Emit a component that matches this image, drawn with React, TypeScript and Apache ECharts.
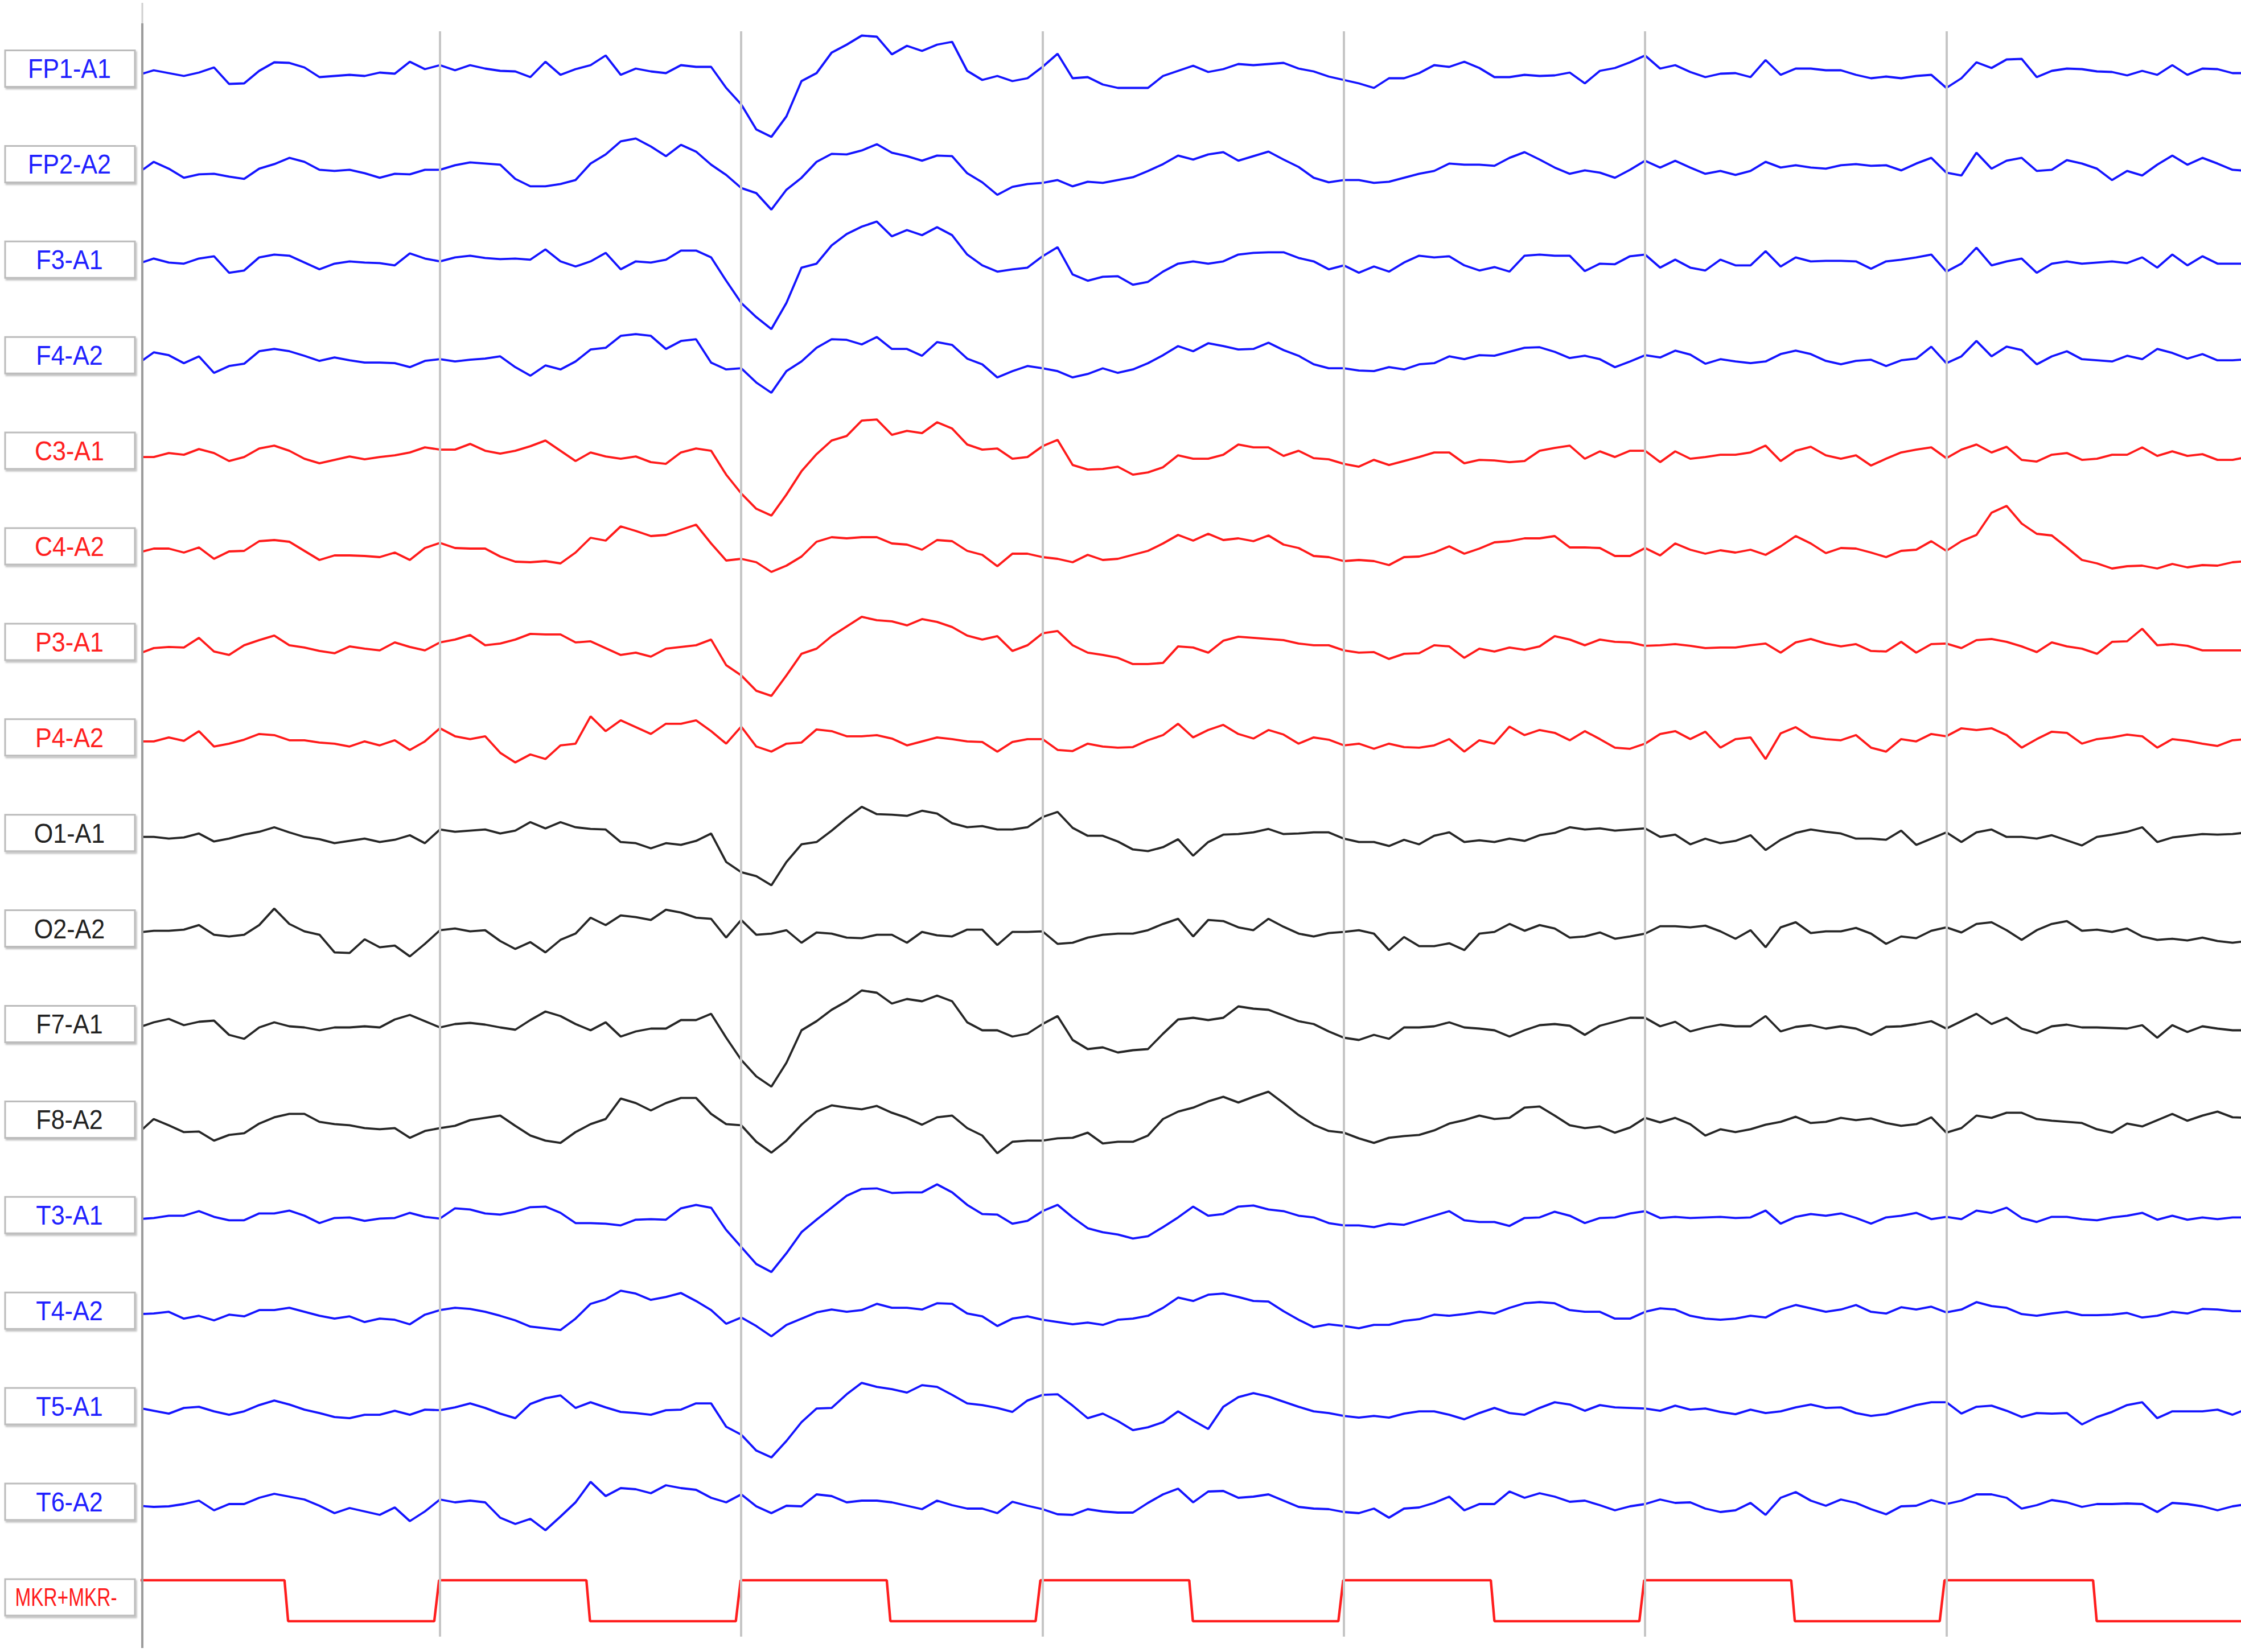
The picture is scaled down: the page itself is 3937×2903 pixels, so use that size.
import React, { useEffect, useRef } from "react";
import * as echarts from "echarts";

// ---- time base: one sample every 0.05 s, seconds 0 .. 7 ----
const TIME_STEP = 0.05;
const SAMPLE_COUNT = 141;
const VIEW_START = 0.012;
const VIEW_END = 6.978;
const SECOND_MARKS = [1, 2, 3, 4, 5, 6];

const CHANNEL_NAMES = [
  "FP1-A1", "FP2-A2", "F3-A1", "F4-A2", "C3-A1", "C4-A2", "P3-A1", "P4-A2",
  "O1-A1", "O2-A2", "F7-A1", "F8-A2", "T3-A1", "T4-A2", "T5-A1", "T6-A2",
];
const CHANNEL_COLORS = [
  "#1414ff", "#1414ff", "#1414ff", "#1414ff",
  "#ff1a1a", "#ff1a1a", "#ff1a1a", "#ff1a1a",
  "#262626", "#262626", "#262626", "#262626",
  "#1414ff", "#1414ff", "#1414ff", "#1414ff",
];
const LABEL_COLORS = [
  "#2020ff", "#2020ff", "#2020ff", "#2020ff",
  "#ff2020", "#ff2020", "#ff2020", "#ff2020",
  "#222222", "#222222", "#222222", "#222222",
  "#2020ff", "#2020ff", "#2020ff", "#2020ff",
];

// ---- signal amplitudes (positive = up), one value per sample ----
const FP1_A1 = [-11,-3,-8,-13,-7,2,-27,-26,-4,11, 10,2,-15,-13,-11,-13,-7,-9,12,-1, 6,-3,6,0,-4,-5,-15,12,-11,-1, 6,23,-11,0,-5,-8,6,3,3,-34, -63,-107,-120,-84,-22,-8,28,42,58,56, 25,40,31,42,47,-4,-20,-13,-22,-17, 3,26,-17,-15,-28,-34,-34,-34,-13,-4, 5,-6,-1,8,6,8,10,0,-5,-14, -20,-26,-34,-17,-17,-8,6,3,12,1, -15,-15,-11,-13,-12,-7,-26,-4,1,11, 23,0,6,-6,-15,-9,-8,-15,15,-11, 0,0,-3,-3,-11,-17,-14,-17,-13,-11, -34,-17,11,1,16,17,-15,-4,0,-1, -5,-6,-12,-4,-11,6,-11,0,-1,-8,-8];
const FP2_A2 = [-15,4,-8,-24,-18,-17,-22,-26,-8,0, 11,4,-10,-12,-10,-16,-24,-17,-18,-10, -10,-2,3,1,-1,-26,-39,-39,-35,-28, 1,17,40,45,31,14,34,22,-1,-19, -42,-51,-80,-45,-24,4,18,17,24,35, 20,14,6,15,14,-16,-32,-54,-40,-35, -33,-28,-39,-31,-33,-28,-23,-12,0,15, 8,17,21,6,14,22,8,-5,-24,-32, -28,-28,-33,-31,-24,-17,-12,1,-1,-1, -3,11,21,8,-6,-17,-11,-15,-24,-10, 6,-6,6,-6,-17,-12,-19,-12,4,-6, -2,-6,-8,-2,0,-3,-2,-11,1,11, -15,-20,20,-8,6,11,-12,-10,7,1, -8,-28,-12,-20,-1,15,-1,11,1,-10,-12];
const F3_A1 = [-7,2,-5,-7,2,6,-23,-19,4,9, 7,-5,-17,-7,-3,-5,-6,-10,11,2, -3,4,7,3,1,2,0,18,-3,-12, -3,12,-17,-3,-5,0,16,16,4,-37, -76,-101,-122,-76,-14,-7,25,45,58,67, 41,52,43,57,43,9,-10,-21,-17,-14, 6,22,-26,-37,-30,-29,-44,-39,-21,-7, -3,-7,-3,9,12,13,13,3,-3,-17, -10,-23,-12,-21,-5,7,4,6,-10,-19, -13,-21,7,9,7,7,-20,-7,-8,6, 9,-14,0,-14,-19,0,-10,-10,15,-12, 4,-3,-2,-2,-3,-16,-3,0,4,9, -21,-7,21,-10,-3,2,-23,-7,-3,-7, -5,-3,-6,4,-14,9,-10,6,-7,-7,-7];
const F4_A2 = [-14,5,0,-14,-2,-31,-19,-15,7,11, 7,-1,-10,-4,-9,-13,-13,-14,-21,-10, -7,-11,-8,-6,-2,-21,-36,-18,-25,-11, 10,13,34,37,34,11,25,28,-13,-25, -23,-48,-66,-28,-11,13,28,27,19,32, 11,11,-1,23,18,-6,-16,-39,-28,-19, -23,-28,-39,-33,-23,-31,-25,-14,0,16, 7,21,16,10,11,22,9,-1,-16,-23, -23,-27,-28,-21,-25,-16,-14,-2,-7,0, -1,6,13,14,6,-5,-1,-7,-21,-11, 0,-4,8,1,-15,-7,-11,-14,-11,2, 8,2,-10,-16,-10,-8,-19,-9,-6,15, -14,-2,25,-2,15,9,-16,-2,7,-7, -9,-11,-1,-7,11,4,-6,2,-9,-9,-7];
const C3_A1 = [-11,-11,-4,-7,3,-4,-18,-11,4,9, 0,-14,-22,-16,-10,-15,-11,-8,-3,6, 2,2,12,0,-5,0,8,18,0,-18, -3,-10,-14,-10,-20,-23,-3,4,0,-42, -75,-102,-114,-77,-36,-6,18,26,53,55, 28,35,31,50,39,11,2,4,-14,-11, 8,19,-25,-33,-32,-28,-42,-38,-29,-8, -14,-14,-7,11,6,6,-9,0,-13,-15, -23,-28,-16,-25,-18,-11,-3,-3,-22,-16, -17,-20,-18,0,5,9,-14,-1,-11,0, 0,-20,-1,-14,-11,-7,-7,-3,9,-18, 0,7,-8,-14,-8,-26,-14,-3,2,6, -13,2,11,-3,7,-16,-19,-7,-4,-16, -14,-7,-7,6,-9,-1,-9,-6,-16,-16,-11];
const C4_A2 = [-11,-4,-4,-11,-2,-22,-9,-8,9,11, 8,-8,-24,-16,-16,-17,-19,-11,-24,-3, 6,-3,-4,-4,-18,-27,-28,-26,-30,-11, 15,10,35,27,18,20,29,38,5,-25, -22,-28,-45,-34,-18,8,16,14,16,16, 5,3,-6,11,9,-8,-15,-35,-13,-13, -19,-22,-28,-15,-24,-22,-15,-8,5,20, 10,22,11,14,9,19,3,-3,-17,-19, -26,-24,-26,-33,-19,-18,-11,0,-13,-4, 7,9,14,14,18,-2,-2,-3,-17,-17, -3,-16,5,-6,-13,-7,-11,-6,-15,0, 18,5,-12,-3,-4,-11,-19,-8,-6,9, -8,9,20,59,71,40,22,19,-2,-24, -30,-39,-35,-34,-39,-31,-37,-33,-34,-28,-26];
const P3_A1 = [-21,-11,-9,-10,7,-17,-23,-6,3,11, -6,-10,-16,-20,-8,-12,-15,-1,-9,-15, -1,4,12,-6,-3,4,14,13,13,-1, 1,-11,-23,-19,-26,-12,-9,-6,4,-41, -59,-86,-95,-59,-21,-12,10,27,44,38, 36,29,40,35,26,11,4,10,-16,-6, 15,19,-6,-19,-23,-28,-39,-39,-37,-8, -10,-19,2,9,7,5,3,-3,-6,-6, -15,-19,-18,-30,-21,-20,-6,-8,-28,-12, -17,-10,-14,-8,10,4,-6,4,0,-1, -7,-6,-4,-7,-11,-10,-10,-6,-3,-19, -1,5,-3,-8,-4,-16,-17,0,-19,-4, -3,-11,3,5,0,-8,-18,-1,-8,-12, -21,0,1,23,-6,-4,-7,-15,-15,-15,-15];
const P4_A2 = [-7,-7,0,-6,11,-16,-11,-4,6,4, -5,-5,-9,-11,-16,-7,-14,-5,-22,-7, 16,2,-3,2,-27,-44,-30,-38,-14,-11, 37,11,30,18,6,24,24,30,11,-11, 19,-16,-25,-11,-9,14,11,2,2,4, -2,-14,-7,0,-3,-7,-8,-25,-8,-3, -3,-22,-24,-11,-16,-18,-17,-5,4,24, 0,13,22,6,-2,13,5,-11,0,-4, -14,-11,-20,-11,-17,-18,-14,-3,-25,-5, -11,19,4,13,8,-5,11,-3,-18,-20, -11,6,11,-3,10,-18,-3,0,-38,7, 18,1,-3,-5,4,-18,-25,-3,-7,6, 2,16,13,16,4,-18,-3,10,8,-11, -3,0,5,2,-18,-3,-6,-11,-15,-5,-3];
const O1_A1 = [-7,-7,-10,-8,-1,-15,-10,-3,2,10, 1,-7,-11,-18,-14,-10,-16,-12,-4,-18, 6,2,4,6,-1,4,19,8,19,10, 7,6,-16,-18,-27,-18,-21,-14,-1,-51, -69,-76,-92,-51,-20,-16,4,26,46,33, 32,30,39,34,17,10,12,6,6,10, 28,37,9,-5,-5,-15,-29,-32,-25,-11, -40,-16,-3,-2,1,7,-2,-1,1,1, -10,-16,-16,-23,-12,-20,-5,1,-16,-13, -16,-10,-14,-4,0,10,6,8,4,6, 8,-7,-3,-20,-10,-18,-14,-4,-30,-12, 0,6,2,-1,-10,-10,-12,4,-21,-10, 1,-16,1,6,-7,-7,-10,-4,-13,-22, -7,-3,2,10,-16,-8,-5,-2,-3,-2,1];
const O2_A2 = [-7,-4,-4,-2,6,-11,-14,-11,6,35, 8,-5,-11,-42,-43,-19,-33,-30,-49,-27, -3,0,-5,-3,-22,-36,-24,-42,-20,-9, 19,6,23,20,15,33,28,19,17,-16, 15,-11,-9,-3,-25,-7,-9,-16,-17,-11, -11,-25,-6,-12,-14,-2,-2,-29,-6,-6, -5,-27,-25,-16,-11,-9,-9,-3,8,17, -14,15,13,2,-3,17,3,-9,-14,-8, -6,-3,-9,-38,-15,-31,-31,-26,-38,-9, -6,8,-4,6,0,-16,-14,-7,-18,-14, -9,4,4,2,5,-5,-18,-3,-33,2, 11,-8,-5,-5,1,-9,-27,-14,-17,-4, 2,-7,8,11,-3,-20,-3,8,13,-4, -2,-6,0,-14,-20,-18,-21,-16,-22,-25,-22];
const F7_A1 = [-6,3,9,-2,4,6,-19,-26,-6,3, -4,-6,-11,-6,-6,-4,-6,8,16,5, -6,0,2,-1,-6,-10,7,22,14,0, -11,3,-22,-13,-8,-8,7,7,18,-24, -63,-92,-110,-68,-11,5,25,40,59,55, 36,44,40,50,40,3,-11,-11,-22,-17, 0,14,-28,-44,-41,-50,-46,-44,-17,8, 11,7,11,31,27,25,15,5,0,-13, -24,-28,-19,-26,-6,-6,-4,3,-6,-8, -11,-22,-11,-2,0,-3,-19,-3,4,11, 11,-4,4,-13,-6,-1,-4,-4,14,-13, -5,-2,-8,-4,-8,-19,-5,-4,0,5, -8,5,18,0,11,-8,-16,-4,-1,-6, -6,-7,-8,-2,-24,-2,-14,-4,-8,-11,-11];
const F8_A2 = [-23,1,-10,-22,-21,-37,-27,-24,-7,4, 10,10,-4,-8,-10,-15,-17,-15,-32,-20, -15,-11,-1,3,7,-11,-28,-37,-41,-22, -8,1,37,29,16,29,38,38,10,-8, -10,-39,-58,-37,-9,14,25,21,18,24, 12,3,-9,4,7,-15,-28,-59,-39,-37, -37,-33,-32,-23,-42,-39,-39,-28,1,14, 21,32,40,30,40,49,29,8,-9,-20, -23,-33,-41,-32,-29,-27,-19,-7,-1,7, 1,3,21,23,7,-10,-15,-12,-23,-14, 3,-5,3,-8,-28,-17,-22,-17,-9,-4, 5,-6,-4,3,-1,2,-6,-11,-8,4, -23,-15,7,3,12,12,1,-2,-4,-6, -17,-23,-7,-12,-1,10,-2,7,14,4,3];
const T3_A1 = [-7,-5,-1,-1,7,-3,-9,-9,3,3, 8,-1,-14,-5,-4,-10,-6,-5,4,-3, -6,12,10,3,1,6,14,15,4,-14, -14,-15,-18,-8,-7,-8,12,18,13,-26, -56,-86,-100,-67,-30,-8,13,34,46,47, 39,40,40,54,40,18,2,1,-15,-10, 7,18,-4,-23,-30,-34,-41,-37,-21,-4, 15,-1,2,15,17,10,7,-1,-4,-14, -18,-18,-21,-15,-17,-9,-1,7,-9,-12, -12,-19,-5,-4,6,-1,-14,-5,-4,3, 7,-5,-3,-5,-4,-3,-5,-4,8,-15, -3,2,-1,3,-5,-15,-4,-1,4,-7, -3,-7,8,4,13,-5,-12,-3,-3,-7, -9,-4,-1,4,-8,-1,-8,-4,-7,-4,-4];
const T4_A2 = [-6,-5,-2,-14,-9,-17,-7,-10,1,1, 5,-2,-9,-14,-10,-20,-14,-16,-24,-7, 1,5,3,-2,-9,-17,-28,-31,-34,-14, 12,20,35,30,19,24,31,17,1,-23, -12,-27,-45,-25,-14,-3,2,-2,1,12, 5,5,2,13,12,-5,-10,-27,-14,-10, -16,-20,-24,-21,-25,-16,-14,-9,5,23, 17,28,30,24,17,16,-1,-16,-29,-24, -27,-31,-25,-25,-18,-15,-7,-9,-6,-2, -5,5,13,15,13,1,-2,-2,-14,-14, -2,4,2,-9,-14,-16,-14,-9,-12,2, 10,4,-2,2,10,-2,-5,6,2,7, -3,2,15,8,5,-6,-9,-5,-2,-8, -8,-7,-4,-12,-9,-2,-5,3,2,-1,-1];
const T5_A1 = [-3,-8,-13,-3,-1,-9,-15,-9,2,10, 3,-6,-12,-19,-21,-15,-15,-8,-15,-6, -7,-2,5,-3,-13,-21,4,14,19,-3, 7,-2,-10,-12,-15,-7,-6,5,5,-36, -50,-78,-90,-61,-28,-4,-3,21,41,34, 30,24,37,34,20,5,2,-3,-10,10, 20,21,1,-21,-13,-26,-42,-37,-28,-9, -25,-40,-1,16,23,17,8,-1,-9,-12, -17,-20,-17,-20,-13,-9,-9,-15,-23,-12, -3,-12,-15,-3,7,3,-8,2,-2,-3, -4,-8,1,-6,-4,-10,-14,-6,-12,-9, -2,3,-3,-2,-12,-17,-14,-6,2,7, 7,-13,-1,1,-8,-19,-12,-13,-12,-32, -19,-10,2,7,-21,-9,-9,-9,-6,-15,-4];
const T6_A2 = [-7,-9,-8,-4,2,-15,-4,-4,7,14, 9,4,-7,-20,-11,-17,-23,-10,-34,-17, 4,-1,2,-1,-28,-39,-30,-50,-26,-1, 35,10,24,22,15,29,24,21,7,-1, 13,-8,-20,-7,-8,13,10,-1,2,2, -1,-7,-13,2,-6,-12,-12,-20,0,-7, -13,-22,-23,-13,-17,-19,-19,-2,13,23, -1,18,19,7,9,13,2,-9,-12,-13, -18,-20,-12,-28,-12,-10,-2,9,-15,-4, -4,18,7,15,9,0,2,-6,-15,-8, -4,4,-2,-1,-12,-18,-15,-2,-23,7, 17,2,-7,4,-2,-13,-22,-8,-7,3, -4,2,13,13,7,-12,-6,3,-1,-9, -4,-4,-3,-4,-18,-2,-4,-8,-15,-8,-4];

const CHANNEL_VALUES = [
  FP1_A1, FP2_A2, F3_A1, F4_A2, C3_A1, C4_A2, P3_A1, P4_A2,
  O1_A1, O2_A2, F7_A1, F8_A2, T3_A1, T4_A2, T5_A1, T6_A2,
];

// ---- marker channel: square wave edges (seconds) and levels ----
const MKR_NAME = "MKR+MKR-";
const MKR_FALL = [0.484, 1.486, 2.483, 3.487, 4.488, 5.485, 6.487];
const MKR_RISE = [0.997, 1.998, 2.993, 3.998, 4.997, 5.994];
const MKR_HIGH = 30;
const MKR_LOW = -42;

// ---- layout (pixels) ----
const W = 3937;
const H = 2903;
const GRID_LEFT = 250;
const GRID_TOP = 55;
const GRID_BOTTOM_Y = 2876;
const FIRST_BASE = 120.5;
const SPACING = 167.9;

export default function App() {
  const ref = useRef<HTMLDivElement>(null);

  useEffect(() => {
    if (!ref.current) return;
    const chart = echarts.init(ref.current, undefined, { renderer: "svg", width: W, height: H });

    const times = Array.from({ length: SAMPLE_COUNT }, (_, k) => +(k * TIME_STEP).toFixed(3));
    const yMax = FIRST_BASE - GRID_TOP;
    const yMin = -(GRID_BOTTOM_Y - FIRST_BASE);

    const series: any[] = [];
    // grey one-second lines
    series.push({
      type: "line",
      data: [],
      silent: true,
      z: 1,
      markLine: {
        silent: true,
        symbol: ["none", "none"],
        label: { show: false },
        lineStyle: { color: "#c6c6c6", width: 4, type: "solid" },
        emphasis: { disabled: true },
        data: SECOND_MARKS.map((s) => ({ xAxis: s })),
      },
    });

    CHANNEL_VALUES.forEach((vals, i) => {
      series.push({
        type: "line",
        name: CHANNEL_NAMES[i],
        data: times.map((t, k) => [t, -i * SPACING + vals[k]]),
        showSymbol: false,
        symbol: "none",
        silent: true,
        z: 3,
        lineStyle: { width: 3.8, color: CHANNEL_COLORS[i] },
        emphasis: { disabled: true },
      });
    });

    // marker square wave
    const edges: { t: number; rise: boolean }[] = [
      ...MKR_FALL.map((t) => ({ t, rise: false })),
      ...MKR_RISE.map((t) => ({ t, rise: true })),
    ].sort((a, b) => a.t - b.t);
    const mkrBase = -16 * SPACING;
    const mkr: number[][] = [[0, mkrBase + MKR_HIGH]];
    edges.forEach((e) => {
      if (e.rise) {
        mkr.push([e.t - 0.016, mkrBase + MKR_LOW]);
        mkr.push([e.t, mkrBase + MKR_HIGH]);
      } else {
        mkr.push([e.t, mkrBase + MKR_HIGH]);
        mkr.push([e.t + 0.012, mkrBase + MKR_LOW]);
      }
    });
    mkr.push([7, mkrBase + MKR_LOW]);
    series.push({
      type: "line",
      name: MKR_NAME,
      data: mkr,
      showSymbol: false,
      symbol: "none",
      silent: true,
      z: 3,
      lineStyle: { width: 4.4, color: "#ff1e1e" },
      emphasis: { disabled: true },
    });

    // label boxes
    const graphics: any[] = [
      { type: "line", shape: { x1: GRID_LEFT, y1: 5, x2: GRID_LEFT, y2: 41 }, style: { stroke: "#cfcfcf", lineWidth: 3 }, z: 5 },
      { type: "line", shape: { x1: GRID_LEFT, y1: 41, x2: GRID_LEFT, y2: 2896 }, style: { stroke: "#9c9c9c", lineWidth: 4 }, z: 5 },
    ];
    const allNames = [...CHANNEL_NAMES, MKR_NAME];
    allNames.forEach((name, i) => {
      const cy = FIRST_BASE + i * SPACING;
      graphics.push({
        type: "rect",
        shape: { x: 9, y: cy - 32, width: 228, height: 64 },
        style: {
          fill: "#ffffff",
          stroke: "#bcbcbc",
          lineWidth: 3,
          shadowBlur: 3,
          shadowOffsetX: 2,
          shadowOffsetY: 3,
          shadowColor: "rgba(0,0,0,0.25)",
        },
        z: 10,
      });
      const isMkr = i === 16;
      graphics.push({
        type: "text",
        x: isMkr ? 116 : 122,
        y: cy,
        scaleX: isMkr ? 0.76 : 0.88,
        style: {
          text: name,
          x: 0,
          y: 0,
          fontSize: isMkr ? 44 : 49,
          fontFamily: '"Liberation Sans", Arial, sans-serif',
          fill: isMkr ? "#ff1a1a" : LABEL_COLORS[i],
          align: "center",
          verticalAlign: "middle",
          textAlign: "center",
          textVerticalAlign: "middle",
        },
        z: 11,
      });
    });

    chart.setOption({
      animation: false,
      backgroundColor: "#ffffff",
      grid: { left: GRID_LEFT, right: 0, top: GRID_TOP, bottom: H - GRID_BOTTOM_Y, containLabel: false },
      xAxis: {
        type: "value",
        min: VIEW_START,
        max: VIEW_END,
        show: false,
        splitLine: { show: false },
      },
      yAxis: {
        type: "value",
        min: yMin,
        max: yMax,
        show: false,
        splitLine: { show: false },
      },
      tooltip: { show: false },
      series,
      graphic: graphics,
    });

    return () => chart.dispose();
  }, []);

  return (
    <div
      ref={ref}
      style={{ position: "absolute", left: 0, top: 0, width: W, height: H, background: "#fff" }}
    />
  );
}
